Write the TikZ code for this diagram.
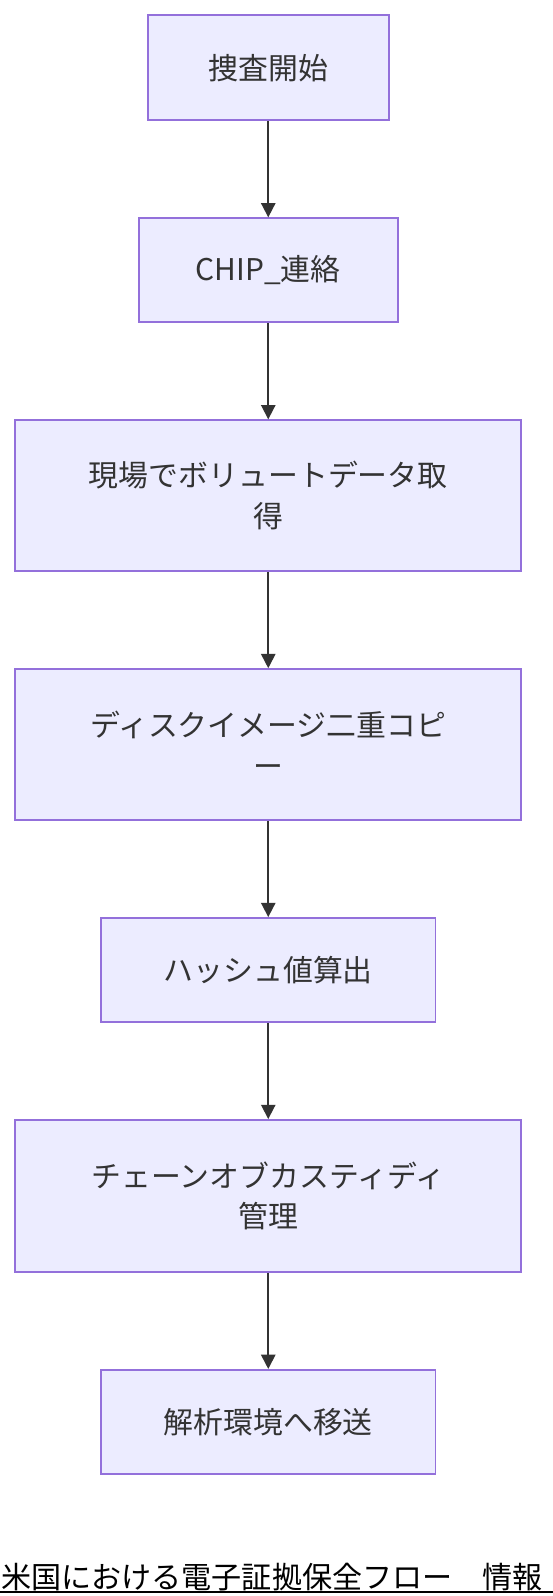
\documentclass[tikz,border=0pt]{standalone}
\usepackage{fontspec}
\setmainfont{Noto Sans CJK JP}
\usetikzlibrary{arrows.meta}
\definecolor{boxfill}{HTML}{ECECFF}
\definecolor{boxline}{HTML}{9370DB}
\definecolor{txt}{HTML}{333333}
\tikzset{
  stepbox/.style={draw=boxline, fill=boxfill, line width=1.8pt, inner sep=0pt,
    align=center, text=txt, font=\fontsize{29.3}{40}\selectfont},
  flow/.style={draw=txt, line width=1.8pt, -{Triangle[length=14pt,width=14pt]}}
}
\begin{document}
\begin{tikzpicture}[x=1pt,y=-1pt]
\fill[white] (0,0) rectangle (552,1596);
\node[stepbox, minimum width=236pt, minimum height=103pt] (a) at (263,66.5) {捜査開始};
\node[stepbox, minimum width=254pt, minimum height=102pt] (b) at (263,265) {CHIP\_連絡};
\node[stepbox, minimum width=496pt, minimum height=148pt] (c) at (263,486) {現場でボリュートデータ取\\得};
\node[stepbox, minimum width=496pt, minimum height=148pt] (d) at (263,730) {ディスクイメージ二重コピ\\ー};
\node[stepbox, minimum width=328pt, minimum height=102pt] (e) at (263,951) {ハッシュ値算出};
\node[stepbox, minimum width=496pt, minimum height=149pt] (f) at (263,1172.5) {チェーンオブカスティディ\\管理};
\node[stepbox, minimum width=328pt, minimum height=102pt] (g) at (263,1394) {解析環境へ移送};
\draw[flow] (a.south) -- (b.north);
\draw[flow] (b.south) -- (c.north);
\draw[flow] (c.south) -- (d.north);
\draw[flow] (d.south) -- (e.north);
\draw[flow] (e.south) -- (f.north);
\draw[flow] (f.south) -- (g.north);
\begin{scope}
\clip (0,0) rectangle (552,1596);
\node[anchor=base west, inner sep=0pt, font=\fontsize{29.5}{34}\selectfont] (title) at (1,1557) {米国における電子証拠保全フロー　情報};
\end{scope}
\coordinate (ul) at (0,1561);
\coordinate (ur) at (552,1561);
\draw[line width=2pt] (ul) -- (ur);
\pgfresetboundingbox
\useasboundingbox (0,0) rectangle (541.2,1564.7);
\end{tikzpicture}
\end{document}
